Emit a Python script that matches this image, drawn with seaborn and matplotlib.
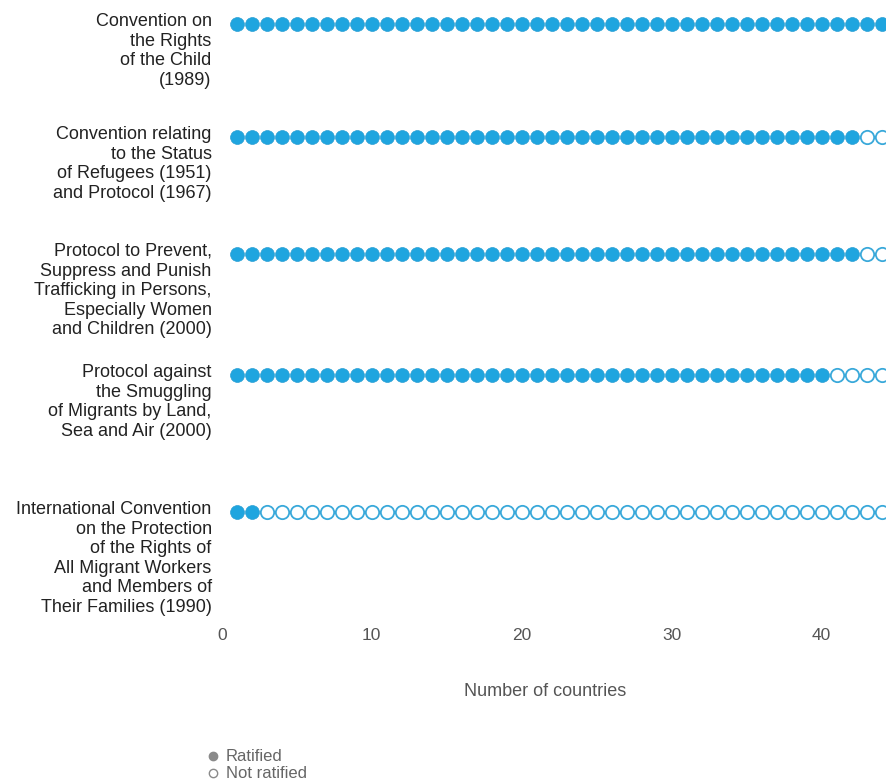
import matplotlib.pyplot as plt
import numpy as np
import pandas as pd
import seaborn as sns
from matplotlib.lines import Line2D

# data
treaties = [
    'Convention on\nthe Rights\nof the Child\n(1989)',
    'Convention relating\nto the Status\nof Refugees (1951)\nand Protocol (1967)',
    'Protocol to Prevent,\nSuppress and Punish\nTrafficking in Persons,\nEspecially Women\nand Children (2000)',
    'Protocol against\nthe Smuggling\nof Migrants by Land,\nSea and Air (2000)',
    'International Convention\non the Protection\nof the Rights of\nAll Migrant Workers\nand Members of\nTheir Families (1990)',
]
ratified = [44, 42, 42, 40, 2]
total_countries = 44

# row positions (pixels from top, layout only)
row_y = [24, 137, 254, 375, 512]

rows = []
for name, n_rat, y in zip(treaties, ratified, row_y):
    for i in range(1, total_countries + 1):
        rows.append({'treaty': name, 'country': i, 'y': y,
                     'status': 'Ratified' if i <= n_rat else 'Not ratified'})
df = pd.DataFrame(rows)

sns.set_theme(style='white')
plt.rcParams['font.family'] = ['Liberation Sans', 'DejaVu Sans']

fig = plt.figure(figsize=(8.86, 7.82), dpi=100)
ax = fig.add_axes([221.7 / 886, 1 - 620 / 782, 1 - 221.7 / 886, 620 / 782])

blue = '#1fa5df'
sns.scatterplot(data=df[df.status == 'Ratified'], x='country', y='y', ax=ax,
                s=100, color=blue, edgecolor='#2a9fd4', linewidth=0.5,
                clip_on=False, legend=False, zorder=3)
sns.scatterplot(data=df[df.status == 'Not ratified'], x='country', y='y', ax=ax,
                s=92, facecolor='white', edgecolor='#3aa9da', linewidth=1.3,
                clip_on=False, legend=False, zorder=3)

ax.set_xlim(0, (886 - 221.7) / 15)
ax.set_ylim(620, 0)
ax.set_xticks([0, 10, 20, 30, 40])
ax.set_yticks([])
ax.tick_params(axis='x', length=0, pad=6, labelsize=12.5, colors='#555555')
sns.despine(ax=ax, left=True, bottom=True)
ax.set_ylabel('')
ax.set_xlabel('Number of countries', fontsize=13, color='#555555')
ax.xaxis.set_label_coords(0.487, (620 - 692) / 620)
ax.xaxis.label.set_va('center')

for name, y in zip(treaties, row_y):
    ax.annotate(name, xy=(0, y), xycoords=('axes fraction', 'data'),
                xytext=(-10, 11), textcoords='offset pixels',
                ha='right', va='top', fontsize=13, color='#222222',
                linespacing=1.2, annotation_clip=False)

handles = [
    Line2D([], [], marker='o', linestyle='', markersize=6,
           markerfacecolor='#8a8a8a', markeredgecolor='#8a8a8a'),
    Line2D([], [], marker='o', linestyle='', markersize=6,
           markerfacecolor='white', markeredgecolor='#8a8a8a', markeredgewidth=1),
]
fig.legend(handles, ['Ratified', 'Not ratified'], loc='upper left',
           bbox_to_anchor=(200 / 886, 1 - 741 / 782), frameon=False,
           fontsize=12, labelcolor='#666666', handlelength=0.6,
           handletextpad=0.45, labelspacing=0.12, borderpad=0)

fig.savefig('out.png', dpi=100)
